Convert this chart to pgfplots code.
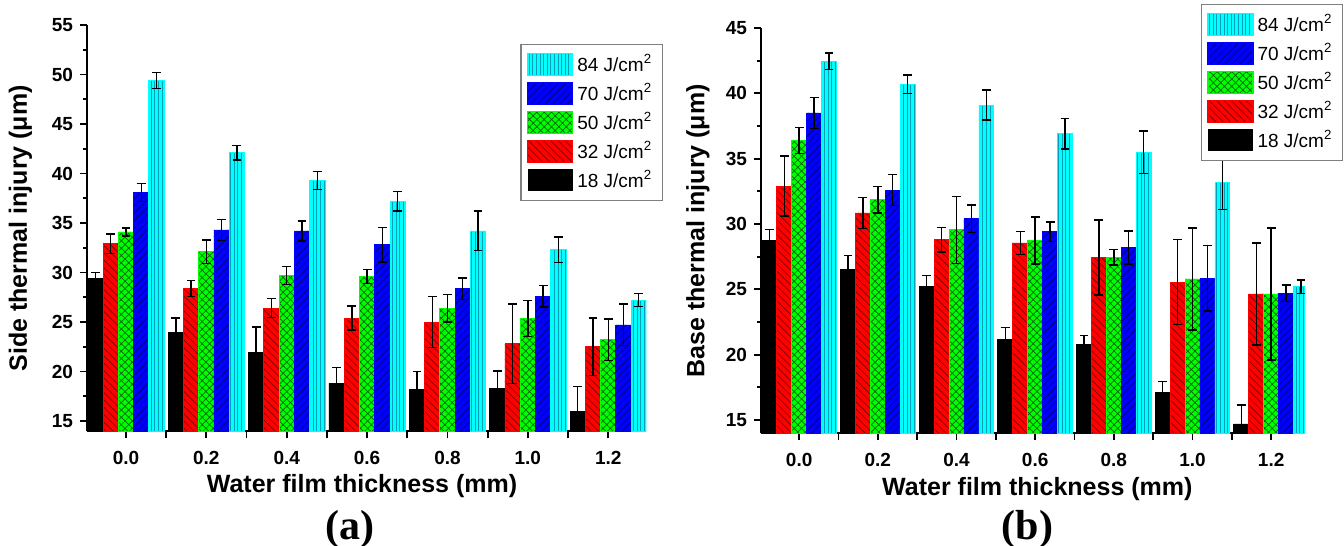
\documentclass[border=0pt]{standalone}
\usepackage{pgfplots}
\pgfplotsset{compat=1.18}
\usepackage{pgfplotstable}
\usetikzlibrary{patterns.meta}
\usepackage{fontspec}
\setmainfont{Liberation Sans}
\newfontfamily\timesfont{Liberation Serif}

\definecolor{cyanbar}{RGB}{0,255,255}
\definecolor{cyanline}{RGB}{0,160,185}
\definecolor{bluebar}{RGB}{0,0,255}
\definecolor{blueline}{RGB}{0,0,120}
\definecolor{greenbar}{RGB}{0,255,0}
\definecolor{greenline}{RGB}{0,100,0}
\definecolor{redbar}{RGB}{255,0,0}
\definecolor{redline}{RGB}{130,0,0}

% side thermal injury (a)
\pgfplotstableread{
x a18 e18 a32 e32 a50 e50 a70 e70 a84 e84
0 29.4 0.6 32.9 1.0 34.1 0.4 38.1 0.9 49.4 0.8
1 23.9 1.5 28.4 0.8 32.1 1.2 34.3 1.05 42.1 0.75
2 21.9 2.6 26.4 0.95 29.7 0.9 34.2 1.0 39.3 0.9
3 18.8 1.6 25.4 1.2 29.6 0.7 32.8 1.75 37.2 1.0
4 18.2 1.8 25.0 2.55 26.4 1.4 28.35 1.1 34.2 2.0
5 18.25 1.8 22.8 4.0 25.35 1.8 27.6 1.1 32.3 1.3
6 16.0 2.5 22.5 2.9 23.2 2.1 24.7 2.1 27.2 0.65
}\sidedata

% base thermal injury (b)
\pgfplotstableread{
x a18 e18 a32 e32 a50 e50 a70 e70 a84 e84
0 28.75 0.85 32.9 2.3 36.4 1.0 38.5 1.2 42.45 0.64
1 26.55 1.05 30.85 1.2 31.85 1.0 32.6 1.2 40.7 0.7
2 25.2 0.85 28.8 0.95 29.55 2.55 30.4 1.05 39.1 1.15
3 21.15 0.93 28.55 0.9 28.75 1.8 29.4 0.75 36.9 1.17
4 20.8 0.66 27.45 2.87 27.45 0.6 28.2 1.27 35.5 1.62
5 17.1 0.85 25.55 3.26 25.8 3.9 25.85 2.5 33.15 2.05
6 14.7 1.45 24.65 3.9 24.65 5.06 24.7 0.64 25.2 0.53
}\basedata

\pgfplotsset{
  panel/.style={
    scale only axis,
    anchor=south west,
    clip mode=individual,
    axis lines=left,
    axis line style={line width=1pt, -},
    ybar, bar width=0.19,
    xmin=-0.485,
    xtick={0,...,6},
    xticklabels={0.0,0.2,0.4,0.6,0.8,1.0,1.2},
    minor xtick={0.5,1.5,...,5.5},
    minor y tick num=1,
    tick align=outside,
    major tick length=3.5pt,
    minor tick length=2pt,
    x tick style={black, line width=0.9pt, /pgfplots/minor tick length=3.5pt},
    y tick style={black, line width=0.9pt},
    /pgf/number format/assume math mode=true,
    tick label style={font=\fontsize{9.5}{10}\selectfont\bfseries},
    xticklabel style={yshift=-3pt},
    label style={font=\fontsize{12.5}{14}\selectfont\bfseries},
    reverse legend,
    legend cell align=left,
    legend style={draw=gray, line width=0.6pt, fill=white,
      font=\fontsize{9.5}{11}\selectfont, row sep=0.5pt, inner sep=3pt},
    legend image code/.code={\draw[##1, draw=none] (0pt,-5.5pt) rectangle (22.5pt,5.5pt);},
    error bars/y dir=both,
    error bars/y explicit,
    error bars/error bar style={black, line width=0.7pt},
    error bars/error mark options={rotate=90, mark size=2.2pt, black, line width=0.7pt},
  },
  s18/.style={fill=black, draw=black},
  s32/.style={fill=redbar, draw=redbar, postaction={pattern={Lines[angle=-45,distance=2.6pt,line width=0.35pt]}, pattern color=redline}},
  s50/.style={fill=greenbar, draw=greenbar, postaction={pattern={Hatch[angle=45,distance=2.6pt,line width=0.35pt]}, pattern color=greenline}},
  s70/.style={fill=bluebar, draw=bluebar, postaction={pattern={Lines[angle=45,distance=2.6pt,line width=0.35pt]}, pattern color=blueline}},
  s84/.style={fill=cyanbar, draw=cyanbar, postaction={pattern={Lines[angle=90,distance=1.8pt,line width=0.45pt]}, pattern color=cyanline}},
}

\begin{document}
\begin{tikzpicture}
\useasboundingbox (0,0) rectangle (672pt,273pt);

\begin{axis}[panel,
  at={(43.5pt,57.25pt)}, width=279.5pt, height=203.25pt,
  xmax=6.47, ymin=13.94, ymax=55,
  ytick={15,20,...,55},
  xlabel={Water film thickness (mm)},
  ylabel={Side thermal injury (μm)},
  xlabel style={at={(axis description cs:0.492,-0.134)}, anchor=center},
  ylabel style={at={(axis description cs:-0.119,0.5)}, anchor=center},
  legend style={at={(axis description cs:1.03,0.953)}, anchor=north east},
]
\addplot[s18, bar shift=-0.38] table[x=x, y=a18, y error=e18] {\sidedata};
\addplot[s32, bar shift=-0.19] table[x=x, y=a32, y error=e32] {\sidedata};
\addplot[s50, bar shift=0] table[x=x, y=a50, y error=e50] {\sidedata};
\addplot[s70, bar shift=0.19] table[x=x, y=a70, y error=e70] {\sidedata};
\addplot[s84, bar shift=0.38] table[x=x, y=a84, y error=e84] {\sidedata};
\legend{18 J/cm\textsuperscript{2},32 J/cm\textsuperscript{2},50 J/cm\textsuperscript{2},70 J/cm\textsuperscript{2},84 J/cm\textsuperscript{2}}
\node[font=\timesfont\bfseries\fontsize{21}{24}\selectfont] at (axis description cs:0.47,-0.24) {(a)};
\end{axis}

\begin{axis}[panel,
  at={(380.5pt,56.25pt)}, width=272pt, height=202.75pt,
  xmax=6.43, ymin=13.97, ymax=45,
  ytick={15,20,...,45},
  xlabel={Water film thickness (mm)},
  ylabel={Base thermal injury (μm)},
  xlabel style={at={(axis description cs:0.508,-0.137)}, anchor=center},
  ylabel style={at={(axis description cs:-0.116,0.5)}, anchor=center},
  legend style={at={(axis description cs:1.07,1.059)}, anchor=north east},
]
\addplot[s18, bar shift=-0.38] table[x=x, y=a18, y error=e18] {\basedata};
\addplot[s32, bar shift=-0.19] table[x=x, y=a32, y error=e32] {\basedata};
\addplot[s50, bar shift=0] table[x=x, y=a50, y error=e50] {\basedata};
\addplot[s70, bar shift=0.19] table[x=x, y=a70, y error=e70] {\basedata};
\addplot[s84, bar shift=0.38] table[x=x, y=a84, y error=e84] {\basedata};
\legend{18 J/cm\textsuperscript{2},32 J/cm\textsuperscript{2},50 J/cm\textsuperscript{2},70 J/cm\textsuperscript{2},84 J/cm\textsuperscript{2}}
\node[font=\timesfont\bfseries\fontsize{21}{24}\selectfont] at (axis description cs:0.49,-0.236) {(b)};
\end{axis}
\end{tikzpicture}
\end{document}
